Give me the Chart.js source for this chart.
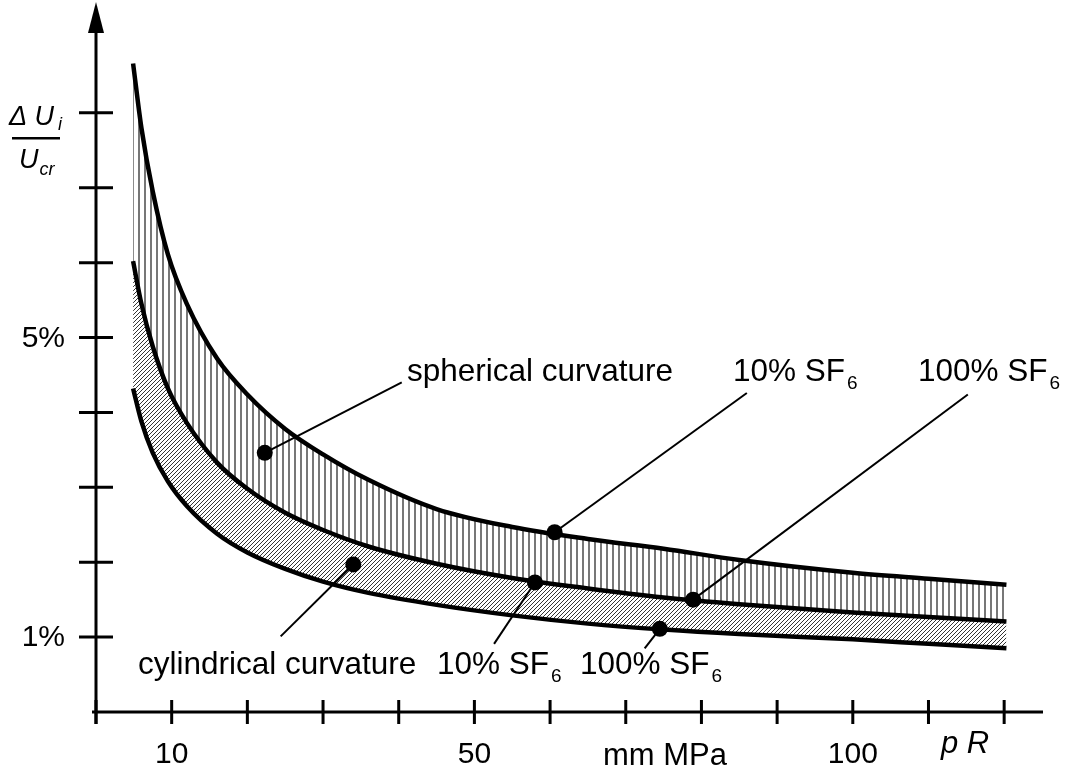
<!DOCTYPE html>
<html>
<head>
<meta charset="utf-8">
<script src="https://cdn.jsdelivr.net/npm/chart.js@4/dist/chart.umd.min.js"></script>
<style>
  html, body { margin: 0; padding: 0; background: #fff; }
  #wrap { position: relative; width: 1068px; height: 774px; }
</style>
</head>
<body>
<div id="wrap"><canvas id="curvature-chart"></canvas></div>
<script>
// p R values (mm MPa) where the curves were read
const pR = [4.9, 6, 7.5, 9.5, 12, 16, 20, 25, 30, 36, 45, 55, 65, 75, 85, 100, 110, 120.3];

// Delta U_i / U_cr in %
const upperCurve  = [8.66, 7.80, 6.95, 6.11, 5.45, 4.72, 4.24, 3.78, 3.44, 3.10, 2.71, 2.47, 2.31, 2.18, 2.03, 1.86, 1.78, 1.70];
const middleCurve = [6.02, 5.45, 4.88, 4.32, 3.86, 3.33, 2.98, 2.66, 2.43, 2.21, 1.98, 1.79, 1.65, 1.53, 1.44, 1.33, 1.27, 1.21];
const lowerCurve  = [4.32, 3.88, 3.46, 3.08, 2.75, 2.38, 2.13, 1.91, 1.74, 1.59, 1.43, 1.29, 1.18, 1.10, 1.04, 0.97, 0.91, 0.85];

// marker dots and where their leader lines end
const dotX = [22.3, 60.6, 78.9, 34.0, 58.0, 74.5];
const dotY = [3.46, 2.40, 1.50, 1.97, 1.73, 1.11];
const leaderEndX = [40.4, 86.0, 115.2, 24.4, 52.6, 72.5];
const leaderEndY = [4.40, 4.26, 4.24, 1.01, 0.91, 0.85];

// axis ticks
const xTicks = [0, 10, 20, 30, 40, 50, 60, 70, 80, 90, 100, 110, 120];
const xTickLabels = ['', '10', '', '', '', '50', '', '', '', '', '100', '', ''];
const yTicks = [0, 1, 2, 3, 4, 5, 6, 7, 8];
const yTickLabels = ['', '1%', '', '', '', '5%', '', '', ''];

const FONT = '"Liberation Sans", Arial, Helvetica, sans-serif';

function makeVerticalPattern() {
    const c = document.createElement('canvas');
    c.width = 6; c.height = 6;
    const g = c.getContext('2d');
    g.fillStyle = '#777777';
    g.fillRect(0, 0, 2, 6);
    return g.createPattern(c, 'repeat');
}

function makeDiagonalPattern() {
    const s = 4;
    const c = document.createElement('canvas');
    c.width = s; c.height = s;
    const g = c.getContext('2d');
    g.strokeStyle = '#000';
    g.lineWidth = 0.8;
    g.beginPath();
    g.moveTo(-1, s + 1); g.lineTo(s + 1, -1);
    g.moveTo(-1, 1); g.lineTo(1, -1);
    g.moveTo(s - 1, s + 1); g.lineTo(s + 1, s - 1);
    g.stroke();
    return g.createPattern(c, 'repeat');
}

function points(ys) {
    return pR.map((x, i) => ({ x: x, y: ys[i] }));
}

function textWithSub(ctx, main, sub, x, y, font, subFont, drop, gap) {
    ctx.font = font;
    ctx.textAlign = 'left';
    ctx.textBaseline = 'alphabetic';
    ctx.fillText(main, x, y);
    const w = ctx.measureText(main).width;
    ctx.font = subFont;
    ctx.fillText(sub, x + w + gap, y + drop);
}

const axesAndText = {
    id: 'axesAndText',
    afterDraw(chart) {
        const ctx = chart.ctx;
        const xs = chart.scales.x, ys = chart.scales.y;
        const x0 = xs.getPixelForValue(0), y0 = ys.getPixelForValue(0);
        ctx.save();
        ctx.strokeStyle = '#000';
        ctx.fillStyle = '#000';
        ctx.lineWidth = 3;
        ctx.lineCap = 'butt';

        // axis lines
        ctx.beginPath();
        ctx.moveTo(92, y0); ctx.lineTo(1043, y0);
        ctx.moveTo(x0, y0 + 12); ctx.lineTo(x0, 30);
        ctx.stroke();
        // arrow on y axis
        ctx.beginPath();
        ctx.moveTo(x0, 2); ctx.lineTo(x0 - 8, 33); ctx.lineTo(x0 + 8, 33);
        ctx.closePath(); ctx.fill();

        // ticks
        ctx.beginPath();
        xTicks.forEach(v => {
            const px = xs.getPixelForValue(v);
            ctx.moveTo(px, y0 - 12); ctx.lineTo(px, y0 + 12);
        });
        yTicks.forEach(v => {
            if (v === 0) return;
            const py = ys.getPixelForValue(v);
            ctx.moveTo(x0 - 17, py); ctx.lineTo(x0 + 17, py);
        });
        ctx.stroke();

        // tick labels
        ctx.font = '30px ' + FONT;
        ctx.textAlign = 'center';
        ctx.textBaseline = 'alphabetic';
        xTicks.forEach((v, i) => {
            if (xTickLabels[i]) ctx.fillText(xTickLabels[i], xs.getPixelForValue(v), 763);
        });
        ctx.textAlign = 'right';
        ctx.textBaseline = 'middle';
        yTicks.forEach((v, i) => {
            if (yTickLabels[i]) ctx.fillText(yTickLabels[i], 65, ys.getPixelForValue(v) + 1);
        });

        // axis titles
        ctx.textAlign = 'center';
        ctx.textBaseline = 'alphabetic';
        ctx.font = '31px ' + FONT;
        ctx.fillText('mm MPa', 665, 765);
        ctx.font = 'italic 31px ' + FONT;
        ctx.textAlign = 'left';
        ctx.fillText('p R', 941, 753);

        textWithSub(ctx, '\u0394 U', 'i', 9, 125, 'italic 27px ' + FONT, 'italic 18px ' + FONT, 5, 4);
        ctx.fillRect(12, 137, 48, 2.5);
        textWithSub(ctx, 'U', 'cr', 19, 168, 'italic 27px ' + FONT, 'italic 18px ' + FONT, 7, 1);

        // annotations
        const big = '31.5px ' + FONT, sub = '19px ' + FONT;
        ctx.font = big;
        ctx.fillText('spherical curvature', 407, 381);
        textWithSub(ctx, '10% SF', '6', 733, 381, big, sub, 8, 2);
        textWithSub(ctx, '100% SF', '6', 918, 381, big, sub, 8, 2);
        ctx.font = big;
        ctx.fillText('cylindrical curvature', 138, 674);
        textWithSub(ctx, '10% SF', '6', 437, 674, big, sub, 8, 2);
        textWithSub(ctx, '100% SF', '6', 580, 674, big, sub, 8, 2);
        ctx.restore();
    }
};

const curveStyle = {
    borderColor: '#000',
    borderWidth: 4.5,
    pointRadius: 0,
    cubicInterpolationMode: 'monotone',
    borderCapStyle: 'butt'
};

const datasets = [
    Object.assign({ label: 'upper', data: points(upperCurve), fill: '+1', backgroundColor: makeVerticalPattern() }, curveStyle),
    Object.assign({ label: 'middle', data: points(middleCurve), fill: '+1', backgroundColor: makeDiagonalPattern() }, curveStyle),
    Object.assign({ label: 'lower', data: points(lowerCurve), fill: false }, curveStyle)
];

// leader lines
dotX.forEach((x, i) => {
    datasets.push({
        label: 'leader' + i,
        data: [{ x: x, y: dotY[i] }, { x: leaderEndX[i], y: leaderEndY[i] }],
        borderColor: '#000',
        borderWidth: 2,
        pointRadius: 0,
        fill: false,
        order: -1
    });
});

// dots
datasets.push({
    label: 'dots',
    type: 'scatter',
    data: dotX.map((x, i) => ({ x: x, y: dotY[i] })),
    pointRadius: 8,
    pointBackgroundColor: '#000',
    pointBorderWidth: 0,
    showLine: false,
    order: -2
});

new Chart(document.getElementById('curvature-chart'), {
    type: 'line',
    data: { datasets: datasets },
    options: {
        responsive: true,
        maintainAspectRatio: false,
        animation: false,
        layout: { padding: { left: 96, right: 26, top: 2, bottom: 62 } },
        scales: {
            x: { type: 'linear', min: 0, max: 125, display: false },
            y: { type: 'linear', min: 0, max: 9.4, display: false }
        },
        plugins: {
            legend: { display: false },
            tooltip: { enabled: false },
            filler: { drawTime: 'beforeDatasetsDraw' }
        }
    },
    plugins: [axesAndText]
});
</script>
</body>
</html>
